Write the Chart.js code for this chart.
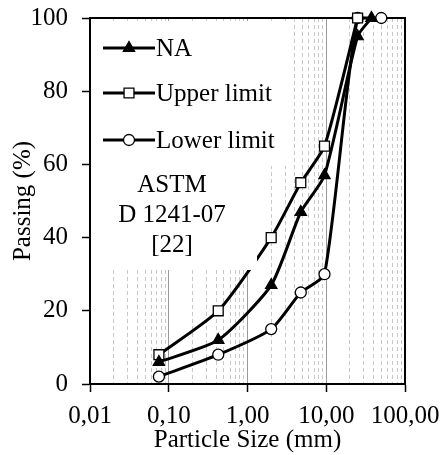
<!DOCTYPE html>
<html>
<head>
<meta charset="utf-8">
<script src="https://cdn.jsdelivr.net/npm/chart.js@4/dist/chart.umd.min.js"></script>
<style>
  html, body { margin: 0; padding: 0; background: #fff; }
  #wrap { width: 443px; height: 455px; }
</style>
</head>
<body>
<div id="wrap"><canvas id="chart"></canvas></div>
<script>
const naSizes = [0.075, 0.425, 2, 4.75, 9.5, 25, 37.5]
const naPassing = [6, 12, 27, 47, 57, 95, 100]

const upperSizes = [0.075, 0.425, 2, 4.75, 9.5, 25]
const upperPassing = [8, 20, 40, 55, 65, 100]

const lowerSizes = [0.075, 0.425, 2, 4.75, 9.5, 25, 50]
const lowerPassing = [2, 8, 15, 25, 30, 100, 100]

const decadeTicks = [0.01, 0.1, 1, 10, 100]
const passingTicks = [0, 20, 40, 60, 80, 100]
const noteLines = ["ASTM", "D 1241-07", "[22]"]

const serif = "'Liberation Serif', 'Times New Roman', serif"

function toPoints(xs, ys) {
  return xs.map((x, i) => ({ x: x, y: ys[i] }))
}

function minorTicks() {
  const ticks = []
  for (let d = 0.01; d < 100; d *= 10) {
    for (let m = 2; m <= 9; m++) ticks.push(+(d * m).toPrecision(3))
  }
  return ticks
}

// keep label overflow from pushing the plot area around
function noPadding(scale) {
  scale.paddingTop = 0
  scale.paddingBottom = 0
  scale.paddingLeft = 0
  scale.paddingRight = 0
}

const commonLine = {
  borderColor: "#000",
  borderWidth: 3,
  pointBorderColor: "#000",
  pointBorderWidth: 1.3,
  tension: 0.2,
  clip: false,
}

// white boxes + legend + note drawn on top of the lines
const legendBox = {
  id: "legendBox",
  beforeDatasetsDraw(chart) {
    const { ctx, chartArea: a } = chart
    ctx.save()
    ctx.strokeStyle = "#000"
    ctx.lineWidth = 2
    ctx.strokeRect(a.left, a.top, a.right - a.left, a.bottom - a.top)
    ctx.restore()
  },
  afterDatasetsDraw(chart) {
    const { ctx, chartArea: a } = chart
    ctx.save()
    ctx.fillStyle = "#fff"
    ctx.fillRect(a.left + 2, a.top + 3, 201, 145)
    ctx.fillRect(a.left + 2, a.top + 147, 165, 105)

    const rows = [a.top + 30, a.top + 75, a.top + 122]
    chart.data.datasets.forEach((ds, i) => {
      const y = rows[i]
      ctx.strokeStyle = ds.borderColor
      ctx.lineWidth = ds.borderWidth
      ctx.beginPath()
      ctx.moveTo(a.left + 13, y)
      ctx.lineTo(a.left + 65, y)
      ctx.stroke()
      ctx.fillStyle = ds.pointBackgroundColor
      ctx.strokeStyle = ds.pointBorderColor
      ctx.lineWidth = ds.pointBorderWidth
      Chart.helpers.drawPoint(ctx, { pointStyle: ds.pointStyle, radius: ds.pointRadius, rotation: 0, borderWidth: ds.pointBorderWidth }, a.left + 39, y)
      ctx.fillStyle = "#000"
      ctx.font = "25px " + serif
      ctx.textAlign = "left"
      ctx.textBaseline = "middle"
      ctx.fillText(ds.label, a.left + 66, y + 1)
    })

    ctx.textAlign = "center"
    noteLines.forEach((t, i) => {
      ctx.fillText(t, a.left + 82, a.top + 167 + i * 30)
    })
    ctx.restore()
  }
}

new Chart(document.getElementById("chart"), {
  type: "line",
  data: {
    datasets: [
      {
        ...commonLine,
        label: "NA",
        data: toPoints(naSizes, naPassing),
        pointStyle: "triangle",
        pointRadius: 6.5,
        pointBackgroundColor: "#000",
      },
      {
        ...commonLine,
        label: "Upper limit",
        data: toPoints(upperSizes, upperPassing),
        pointStyle: "rect",
        pointRadius: 7,
        pointBackgroundColor: "#fff",
      },
      {
        ...commonLine,
        label: "Lower limit",
        data: toPoints(lowerSizes, lowerPassing),
        pointStyle: "circle",
        pointRadius: 5.5,
        pointBackgroundColor: "#fff",
      },
    ],
  },
  options: {
    responsive: true,
    maintainAspectRatio: false,
    animation: false,
    layout: { padding: { top: 18, right: 38, left: 0, bottom: 0 } },
    plugins: {
      legend: { display: false },
      tooltip: { enabled: false },
    },
    scales: {
      x: {
        type: "logarithmic",
        position: "bottom",
        min: 0.01,
        max: 100,
        afterBuildTicks(scale) {
          scale.ticks = decadeTicks.map(v => ({ value: v }))
        },
        afterFit(scale) {
          scale.height = 71
          noPadding(scale)
        },
        ticks: {
          color: "#000",
          font: { family: serif, size: 25 },
          padding: 9,
          maxRotation: 0,
          autoSkip: false,
          callback: v => v.toFixed(2).replace(".", ","),
        },
        grid: {
          color: ctx => (ctx.tick && (ctx.tick.value === 0.01 || ctx.tick.value === 100)) ? "rgba(0,0,0,0)" : "#9a9a9a",
          lineWidth: 1,
          tickColor: "#000",
          tickLength: 8,
          tickWidth: 1.5,
        },
        border: { color: "#000", width: 2 },
        title: {
          display: true,
          text: "Particle Size (mm)",
          color: "#000",
          font: { family: serif, size: 25 },
          padding: { top: 0, bottom: 0 },
        },
      },
      xMinor: {
        type: "logarithmic",
        position: "top",
        min: 0.01,
        max: 100,
        afterBuildTicks(scale) {
          scale.ticks = minorTicks().map(v => ({ value: v }))
        },
        afterFit(scale) {
          scale.height = 0
          noPadding(scale)
        },
        ticks: { display: false },
        grid: {
          color: "#c8c8c8",
          lineWidth: 1,
          drawTicks: false,
        },
        border: { display: false, dash: [4, 3] },
      },
      y: {
        min: 0,
        max: 100,
        afterBuildTicks(scale) {
          scale.ticks = passingTicks.map(v => ({ value: v }))
        },
        afterFit(scale) {
          scale.width = 90
          noPadding(scale)
        },
        ticks: {
          color: "#000",
          font: { family: serif, size: 25 },
          padding: 14,
        },
        grid: {
          drawOnChartArea: false,
          tickColor: "#000",
          tickLength: 8,
          tickWidth: 1.5,
        },
        border: { color: "#000", width: 2 },
        title: {
          display: true,
          text: "Passing (%)",
          color: "#000",
          font: { family: serif, size: 25 },
          padding: { top: 8, bottom: 0 },
        },
      },
    },
  },
  plugins: [legendBox],
})
</script>
</body>
</html>
